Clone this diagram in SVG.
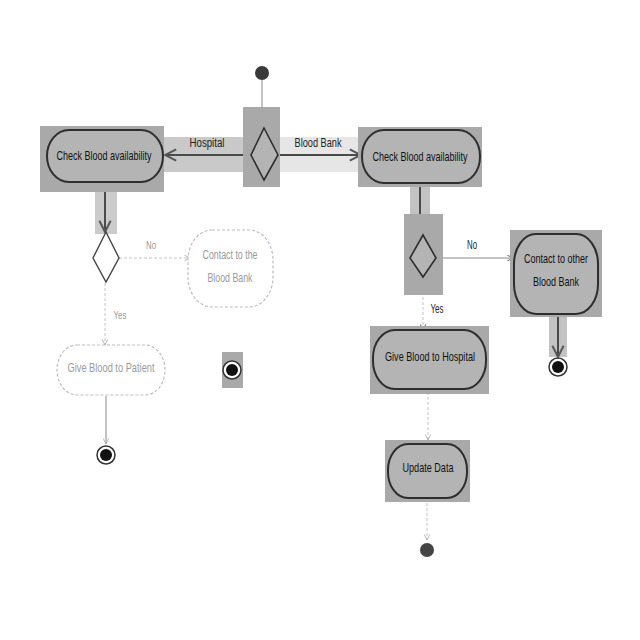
<svg xmlns="http://www.w3.org/2000/svg" width="640" height="640" viewBox="0 0 640 640">
<defs>
<style>
.hl{fill:#a9a9a9}
.band{fill:#c9c9c9}
.band2{fill:#e6e6e6}
.act{fill:#b4b4b4;stroke:#2e2e2e;stroke-width:2}
.fade{fill:#ffffff;stroke:#bdbdbd;stroke-width:1.2;stroke-dasharray:3 2}
.dia{fill:#b4b4b4;stroke:#2e2e2e;stroke-width:1.6}
.diaw{fill:#ffffff;stroke:#444;stroke-width:1.4}
.t{font-family:"Liberation Sans",Arial,sans-serif;font-size:13px;fill:#111;text-anchor:middle}
.tf{font-family:"Liberation Sans",Arial,sans-serif;font-size:12px;fill:#9a9a9a;text-anchor:middle}
.lbl{font-family:"Liberation Sans",Arial,sans-serif;font-size:12px;fill:#222;text-anchor:middle}
.lblf{font-family:"Liberation Sans",Arial,sans-serif;font-size:11px;fill:#999;text-anchor:middle}
.e{stroke:#4a4a4a;stroke-width:2;fill:none}
.ef{stroke:#c4c4c4;stroke-width:1;fill:none;stroke-dasharray:3 2}
.en{stroke:#888;stroke-width:1;fill:none}
</style>
<marker id="ar" viewBox="0 0 10 10" refX="9" refY="5" markerWidth="7" markerHeight="7" orient="auto-start-reverse">
<path d="M1,1 L9,5 L1,9" fill="none" stroke="#555" stroke-width="1.4"/>
</marker>
<marker id="arf" viewBox="0 0 10 10" refX="9" refY="5" markerWidth="7" markerHeight="7" orient="auto-start-reverse">
<path d="M1,1 L9,5 L1,9" fill="none" stroke="#aaa" stroke-width="1.2"/>
</marker>
</defs>
<rect width="640" height="640" fill="#ffffff"/>

<g id="connectors">
<rect class="band" x="164" y="137" width="80" height="35"/>
<rect class="band2" x="280" y="137" width="78" height="35"/>
<rect class="hl" x="95" y="190" width="22" height="44" opacity="0.6"/>
<rect class="hl" x="410" y="187" width="20" height="28" opacity="0.7"/>
<rect class="hl" x="549" y="317" width="18" height="40" opacity="0.7"/>
<line class="en" x1="262" y1="80" x2="262" y2="128" marker-end="url(#ar)"/>
<line class="e" x1="251" y1="155" x2="165" y2="155" marker-end="url(#ar)"/>
<text class="lbl" x="207" y="147" textLength="35" lengthAdjust="spacingAndGlyphs">Hospital</text>
<line class="e" x1="278" y1="155" x2="361" y2="155" marker-end="url(#ar)"/>
<text class="lbl" x="318" y="147" textLength="47" lengthAdjust="spacingAndGlyphs">Blood Bank</text>
<line class="e" x1="105" y1="183" x2="105" y2="232" marker-end="url(#ar)"/>
<line class="ef" x1="119" y1="258" x2="190" y2="258" marker-end="url(#arf)"/>
<text class="lblf" x="151" y="249" textLength="10" lengthAdjust="spacingAndGlyphs">No</text>
<line class="ef" x1="105" y1="283" x2="105" y2="345" marker-end="url(#arf)"/>
<text class="lblf" x="120" y="319" textLength="13" lengthAdjust="spacingAndGlyphs">Yes</text>
<line class="en" x1="106" y1="396" x2="106" y2="444" marker-end="url(#arf)"/>
<line class="e" x1="420" y1="184" x2="420" y2="235" marker-end="url(#ar)"/>
<line class="en" x1="436" y1="258" x2="513" y2="258" marker-end="url(#ar)"/>
<text class="lbl" x="472" y="249" textLength="10" lengthAdjust="spacingAndGlyphs">No</text>
<line class="ef" x1="423" y1="277" x2="423" y2="330" marker-end="url(#ar)"/>
<text class="lbl" x="437" y="313" textLength="13" lengthAdjust="spacingAndGlyphs">Yes</text>
<line class="e" x1="558" y1="315" x2="558" y2="357" marker-end="url(#ar)"/>
<line class="ef" x1="428" y1="392" x2="428" y2="440" marker-end="url(#arf)"/>
<line class="ef" x1="427" y1="503" x2="427" y2="540" marker-end="url(#arf)"/>
</g>

<g id="start">
<circle cx="262" cy="73" r="7" fill="#3a3a3a"/>
</g>

<g id="decision-main">
<rect class="hl" x="243" y="107" width="37" height="80"/>
<polygon class="dia" points="264,128 278,155 264,180 251,155"/>
</g>

<g id="check-left">
<rect class="hl" x="40" y="126" width="124" height="66"/>
<rect class="act" x="47" y="130" width="116" height="52" rx="22" ry="26"/>
<text class="t" x="104" y="160" textLength="95" lengthAdjust="spacingAndGlyphs">Check Blood availability</text>
</g>

<g id="check-right">
<rect class="hl" x="358" y="127" width="124" height="60"/>
<rect class="act" x="362" y="130" width="118" height="53" rx="22" ry="26"/>
<text class="t" x="420" y="161" textLength="95" lengthAdjust="spacingAndGlyphs">Check Blood availability</text>
</g>

<g id="decision-left">
<polygon class="diaw" points="106,232 119,258 106,282 93,258"/>
</g>

<g id="contact-blood-bank">
<rect class="fade" x="188" y="230" width="85" height="77" rx="24" ry="30"/>
<text class="tf" x="230" y="259" textLength="55" lengthAdjust="spacingAndGlyphs">Contact to the</text>
<text class="tf" x="230" y="282" textLength="45" lengthAdjust="spacingAndGlyphs">Blood Bank</text>
</g>

<g id="give-patient">
<rect class="fade" x="57" y="345" width="108" height="50" rx="20" ry="25"/>
<text class="tf" x="111" y="372" textLength="87" lengthAdjust="spacingAndGlyphs">Give Blood to Patient</text>
</g>

<g id="end-patient">
<circle cx="106" cy="455" r="9" fill="#fff" stroke="#333" stroke-width="1.5"/>
<circle cx="106" cy="455" r="6" fill="#111"/>
</g>

<g id="end-contact">
<rect class="hl" x="222" y="352" width="21" height="36"/>
<circle cx="232" cy="370" r="9" fill="#fff" stroke="#333" stroke-width="1.5"/>
<circle cx="232" cy="370" r="6" fill="#111"/>
</g>

<g id="decision-right">
<rect class="hl" x="404" y="214" width="39" height="81"/>
<polygon class="dia" points="423,235 436,258 423,277 410,258"/>
</g>

<g id="contact-other">
<rect class="hl" x="510" y="230" width="92" height="87"/>
<rect class="act" x="514" y="234" width="84" height="80" rx="22" ry="30"/>
<text class="t" x="556" y="263" textLength="64" lengthAdjust="spacingAndGlyphs">Contact to other</text>
<text class="t" x="556" y="286" textLength="46" lengthAdjust="spacingAndGlyphs">Blood Bank</text>
</g>

<g id="end-other">
<circle cx="558" cy="367" r="9" fill="#fff" stroke="#333" stroke-width="1.5"/>
<circle cx="558" cy="367" r="6" fill="#111"/>
</g>

<g id="give-hospital">
<rect class="hl" x="370" y="326" width="119" height="68"/>
<rect class="act" x="373" y="330" width="113" height="59" rx="22" ry="28"/>
<text class="t" x="430" y="361" textLength="90" lengthAdjust="spacingAndGlyphs">Give Blood to Hospital</text>
</g>

<g id="update-data">
<rect class="hl" x="385" y="440" width="85" height="62"/>
<rect class="act" x="388" y="444" width="79" height="54" rx="20" ry="26"/>
<text class="t" x="428" y="472" textLength="51" lengthAdjust="spacingAndGlyphs">Update Data</text>
</g>

<g id="end-update">
<circle cx="427" cy="550" r="7" fill="#444"/>
</g>
</svg>
